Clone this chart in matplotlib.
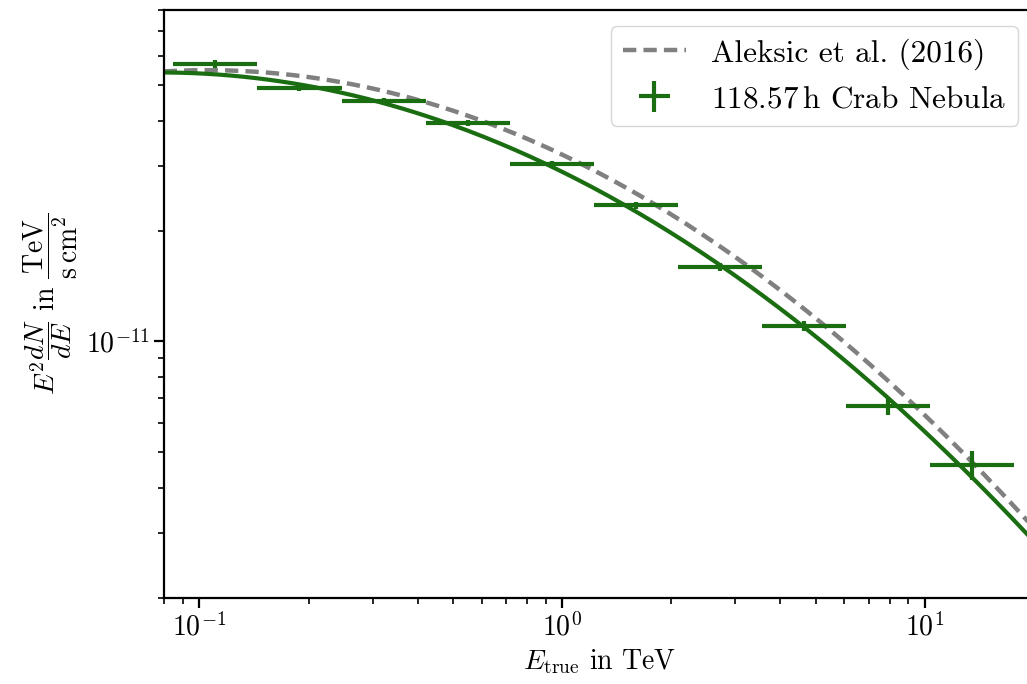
import numpy as np
import matplotlib
matplotlib.use('Agg')
import matplotlib.pyplot as plt

plt.rcParams['font.family'] = 'serif'
plt.rcParams['font.serif'] = ['cmr10']
plt.rcParams['mathtext.fontset'] = 'cm'
plt.rcParams['axes.unicode_minus'] = False
plt.rcParams['axes.formatter.use_mathtext'] = True
plt.rcParams['font.size'] = 20

# energy bins in TeV
energy_edges = [0.0848, 0.1445, 0.2464, 0.4201, 0.7164, 1.221,
                2.083, 3.551, 6.055, 10.32, 17.60]
# E^2 dN/dE in TeV / (s cm^2)
flux = [5.69e-11, 4.92e-11, 4.51e-11, 3.93e-11, 3.05e-11,
        2.35e-11, 1.60e-11, 1.10e-11, 6.66e-12, 4.61e-12]
flux_err_lo = [1.4e-12, 1.1e-12, 0.95e-12, 0.75e-12, 0.58e-12,
               0.52e-12, 0.40e-12, 0.35e-12, 0.35e-12, 0.41e-12]
flux_err_hi = [1.4e-12, 1.1e-12, 0.95e-12, 0.75e-12, 0.58e-12,
               0.52e-12, 0.40e-12, 0.35e-12, 0.42e-12, 0.43e-12]

# log-parabola parameters (amplitude at 1 TeV, alpha, beta)
magic_params = (3.23e-11, 2.47, 0.24)
fit_params = (2.90e-11, 2.488, 0.22)

green = '#1a6e11'


def sed(e, amplitude, alpha, beta):
    return amplitude * e**(2 - alpha - beta * np.log10(e))


edges = np.array(energy_edges)
e_center = np.sqrt(edges[:-1] * edges[1:])
xerr = [e_center - edges[:-1], edges[1:] - e_center]

fig = plt.figure(figsize=(10.27, 6.84), dpi=100)
ax = fig.add_axes([0.16, 0.1257, 0.8468, 0.8596])

e = np.logspace(np.log10(0.07), np.log10(25), 300)
ax.plot(e, sed(e, *magic_params), '--', color='gray', lw=3.2,
        dashes=(3, 1.6), label='Aleksic et al. (2016)')
ax.plot(e, sed(e, *fit_params), '-', color=green, lw=3)
ax.errorbar(e_center, flux, xerr=xerr, yerr=[flux_err_lo, flux_err_hi],
            fmt='none', ecolor=green, elinewidth=3,
            label=r'118.57$\,$h Crab Nebula')

ax.set_xscale('log')
ax.set_yscale('log')
ax.set_xlim(0.08, 20)
ax.set_ylim(2e-12, 8e-11)

ax.set_xlabel(r'$E_\mathrm{true}$ in TeV')
ax.set_ylabel(r'$E^2\dfrac{dN}{dE}$ in $\dfrac{\mathrm{TeV}}{\mathrm{s}\,\mathrm{cm}^2}$')

for s in ax.spines.values():
    s.set_linewidth(1.6)
ax.tick_params(which='major', length=7, width=1.6)
ax.tick_params(which='minor', length=4, width=1.2)

ax.legend(loc='upper right', framealpha=0.8, fancybox=True, fontsize=22.5)

plt.savefig('out.png', dpi=100)
